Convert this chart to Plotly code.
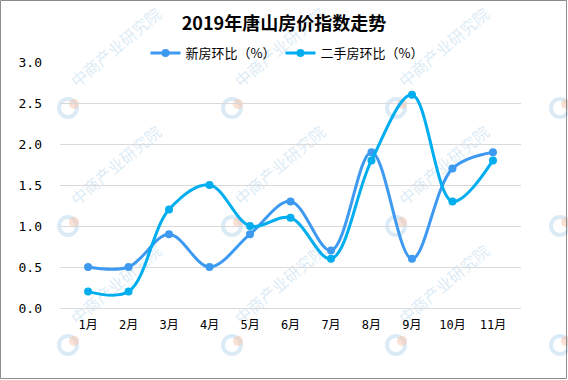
import plotly.graph_objects as go

months = ["1月", "2月", "3月", "4月", "5月", "6月", "7月", "8月", "9月", "10月", "11月"]
new_house = [0.5, 0.5, 0.9, 0.5, 0.9, 1.3, 0.7, 1.9, 0.6, 1.7, 1.9]
second_hand = [0.2, 0.2, 1.2, 1.5, 1.0, 1.1, 0.6, 1.8, 2.6, 1.3, 1.8]
series_names = ["新房环比（%）", "二手房环比（%）"]
y_ticks = [0, 0.5, 1.0, 1.5, 2.0, 2.5, 3.0]
y_tick_text = ["0.0", "0.5", "1.0", "1.5", "2.0", "2.5", "3.0"]
watermark_text = "中商产业研究院"
title_text = "2019年唐山房价指数走势"

W, H = 568, 380
L, R, T, B = 60, 47, 62, 72
pw, ph = W - L - R, H - T - B

font = "Noto Sans CJK SC, Noto Sans, sans-serif"
mono = "DejaVu Sans Mono, Noto Sans CJK SC, monospace"


def px(x):
    return (x - L) / pw


def py(y):
    return (H - B - y) / ph


fig = go.Figure()
fig.add_trace(go.Scatter(
    x=months, y=new_house, name=series_names[0], mode="lines+markers",
    line=dict(color="#3d9af0", width=3, shape="spline", smoothing=1.0),
    marker=dict(size=8, color="#3d9af0"),
))
fig.add_trace(go.Scatter(
    x=months, y=second_hand, name=series_names[1], mode="lines+markers",
    line=dict(color="#00aeef", width=3, shape="spline", smoothing=1.0),
    marker=dict(size=8, color="#00aeef"),
))

shapes = [dict(type="rect", xref="paper", yref="paper",
               x0=px(0.5), x1=px(566.5), y0=py(378.5), y1=py(0.5),
               line=dict(color="#8c8c8c", width=1), fillcolor="rgba(0,0,0,0)", layer="above")]

wm_color = "rgba(170,208,234,0.42)"
# watermark grid: logos everywhere, text only where it fits inside the picture
for lx in [-96, 68, 232, 396, 560]:
    for ly in [108, 226, 345]:
        shapes.append(dict(type="circle", xref="paper", yref="paper",
                           x0=px(lx - 9), x1=px(lx + 9), y0=py(ly + 9), y1=py(ly - 9),
                           line=dict(color=wm_color, width=4),
                           fillcolor="rgba(0,0,0,0)", layer="between"))
        shapes.append(dict(type="circle", xref="paper", yref="paper",
                           x0=px(lx + 1), x1=px(lx + 11), y0=py(ly + 1), y1=py(ly - 9),
                           line=dict(width=0), fillcolor="rgba(247,196,170,0.5)", layer="between"))
        if 0 <= lx <= 440:
            shapes.append(dict(type="line", xref="paper", yref="paper",
                               x0=px(lx + 10), y0=py(ly - 6), x1=px(lx + 108), y1=py(ly - 89),
                               line=dict(width=0, color="rgba(0,0,0,0)"), layer="between",
                               label=dict(text=watermark_text, textposition="middle",
                                          font=dict(size=16, color=wm_color, family=font))))

fig.update_layout(
    width=W, height=H,
    margin=dict(l=L, r=R, t=T, b=B),
    paper_bgcolor="white", plot_bgcolor="white",
    font=dict(family=font, size=12, color="#000000"),
    title=dict(text="<b>" + title_text + "</b>", x=284 / W, xanchor="center",
               y=1 - 23.5 / H, yanchor="middle", font=dict(size=18, color="#000000")),
    legend=dict(orientation="h", x=px(287), xanchor="center", y=1 + 9 / ph, yanchor="middle",
                font=dict(size=13), bgcolor="rgba(0,0,0,0)"),
    showlegend=True,
    xaxis=dict(showgrid=False, showline=True, linecolor="#d9d9d9", linewidth=1,
               ticks="", ticklabelstandoff=6, tickfont=dict(size=12, family=mono), fixedrange=True),
    yaxis=dict(range=[0, 3], tickvals=y_ticks, ticktext=y_tick_text, showgrid=True,
               gridcolor="#d9d9d9", gridwidth=1, zeroline=False, showline=False,
               ticklabelstandoff=17, tickfont=dict(size=13, family=mono), fixedrange=True),
    shapes=shapes,
)

fig.write_html("out.html", config={"displayModeBar": False},
               post_script="document.body.style.margin='0';document.body.style.overflow='hidden';")
